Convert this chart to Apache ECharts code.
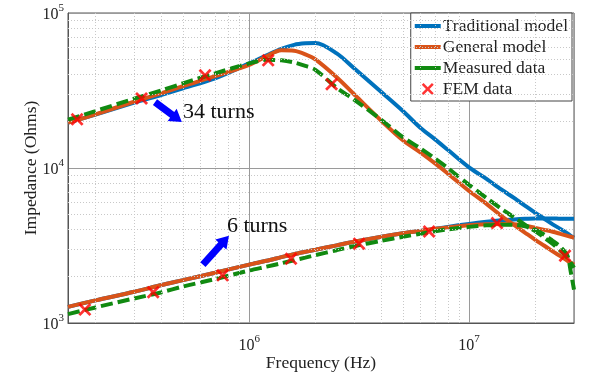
<!DOCTYPE html>
<html><head><meta charset="utf-8">
<script src="https://cdn.jsdelivr.net/npm/echarts@6/dist/echarts.min.js"></script>
<style>html,body{margin:0;padding:0;background:#fff}#c{width:591px;height:373px}</style>
</head><body><div id="c"></div>
<script>
// Frequency grid (Hz)
const freq = [1.5e5, 2e5, 3e5, 4e5, 5e5, 7e5, 1e6, 1.2e6, 1.4e6, 1.6e6, 1.8e6, 2e6, 2.5e6, 3e6, 4e6, 5e6, 6e6, 7e6, 8e6, 1e7, 1.2e7, 1.4e7, 1.6e7, 1.8e7, 2e7, 2.2e7, 2.4e7, 2.6e7, 2.8e7, 2.9e7, 3e7];
// 34 turns
const tradUpper = [19600, 22100, 26400, 29700, 32700, 37900, 47300, 53300, 58700, 62300, 63700, 64000, 54900, 44000, 30800, 23300, 18200, 15300, 13100, 10100, 8500, 7270, 6410, 5700, 5140, 4700, 4330, 4050, 3790, 3650, 3550];
const genUpper = [19600, 22200, 26800, 30400, 33700, 39100, 46300, 52500, 57400, 57000, 54100, 50200, 38500, 29900, 20100, 15100, 12600, 10700, 9220, 7110, 5870, 4910, 4300, 3820, 3440, 3150, 2900, 2700, 2520, 2450, 2380];
const measUpper = [20500, 23300, 28000, 31700, 35200, 40800, 47300, 49900, 49500, 48000, 45600, 43000, 32900, 27600, 20400, 15800, 13400, 11500, 10000, 7780, 6410, 5450, 4810, 4300, 3910, 3550, 3240, 2930, 2640, 2450, 2270];
// 6 turns
const tradLower = [1270, 1400, 1590, 1760, 1890, 2110, 2380, 2520, 2660, 2780, 2880, 2970, 3170, 3340, 3600, 3790, 3930, 4050, 4170, 4360, 4500, 4600, 4660, 4700, 4730, 4730, 4730, 4700, 4700, 4700, 4700];
const genLower = [1270, 1400, 1590, 1760, 1890, 2110, 2380, 2520, 2660, 2780, 2880, 2970, 3170, 3340, 3600, 3790, 3930, 4050, 4140, 4270, 4330, 4360, 4330, 4240, 4110, 3990, 3880, 3760, 3650, 3600, 3550];
const measLower = [1140, 1260, 1440, 1580, 1720, 1920, 2180, 2310, 2430, 2540, 2640, 2740, 2950, 3130, 3390, 3600, 3760, 3910, 4020, 4170, 4270, 4300, 4300, 4210, 3990, 3710, 3390, 3100, 2720, 2140, 1640];
// FEM points
const femUpperFreq = [1.65e5, 3.24e5, 6.30e5, 1.22e6, 2.37e6];
const femUpperZ = [20600, 28100, 39600, 49500, 34700];
const femLowerFreq = [1.79e5, 3.66e5, 7.57e5, 1.55e6, 3.16e6, 6.58e6, 1.34e7, 2.73e7];
const femLowerZ = [1220, 1580, 2030, 2600, 3250, 3890, 4410, 2720];
// Axes
const xRange = [1.5e5, 3e7];
const yRange = [1e3, 1e5];
const minorMultipliers = [2, 3, 4, 5, 6, 7, 8, 9];
const xDecades = [1e5, 1e6, 1e7];
const yDecades = [1e3, 1e4];
// Labels / annotations
const legendNames = ['Traditional model', 'General model', 'Measured data', 'FEM data'];
const xName = 'Frequency (Hz)';
const yName = 'Impedance (Ohms)';
const annoText = ['34 turns', '6 turns'];
const annoTextAt = [[5.0e5, 2.29e4], [7.92e5, 4.18e3]];
const annoArrows = [[[3.73e5, 2.66e4], [4.94e5, 1.98e4]], [[6.16e5, 2.38e3], [8.09e5, 3.66e3]]];

const FONT = '"Liberation Serif", "Times New Roman", serif';
const C_BLUE = '#0072BD', C_ORANGE = '#D95319', C_GREEN = '#118A11', C_RED = '#FF0000';

const zip = (a, b) => a.map((v, i) => [v, b[i]]);
const minorX = [], minorY = [];
xDecades.forEach(d => minorMultipliers.forEach(m => { const v = d * m; if (v > xRange[0] && v < xRange[1]) minorX.push({ xAxis: v }); }));
yDecades.forEach(d => minorMultipliers.forEach(m => { const v = d * m; if (v > yRange[0] && v < yRange[1]) minorY.push({ yAxis: v }); }));

const expLabel = v => '{b|10}{s|' + Math.round(Math.log10(v)) + '}';
const rich = {
  b: { fontSize: 16, fontFamily: FONT, color: '#222', verticalAlign: 'bottom' },
  s: { fontSize: 11, fontFamily: FONT, color: '#222', verticalAlign: 'bottom', padding: [0, 0, 9, 0] }
};

function lineSeries(name, data, color, dashed, z) {
  return {
    name, type: 'line', data: zip(freq, data), symbol: 'none', smooth: 0.3, z,
    color, lineStyle: { width: 4, color, type: dashed ? [12, 5] : 'solid' },
    emphasis: { disabled: true }
  };
}
const xPath = 'path://M0,1.5 L1.5,0 L5,3.5 L8.5,0 L10,1.5 L6.5,5 L10,8.5 L8.5,10 L5,6.5 L1.5,10 L0,8.5 L3.5,5 Z';
const barPath = 'path://M0,0 H26 V4 H0 Z';
function femSeries(f, z) {
  return { name: 'FEM data', type: 'scatter', data: zip(f, z), symbol: xPath, symbolSize: 13,
    itemStyle: { color: C_RED }, z: 6, emphasis: { disabled: true } };
}

const chart = echarts.init(document.getElementById('c'), null, { renderer: 'canvas' });
chart.setOption({
  animation: false,
  backgroundColor: '#fff',
  grid: { left: 68, right: 17, top: 13, bottom: 50, show: true, borderColor: '#555', borderWidth: 1,
          containLabel: false, outerBoundsMode: 'none' },
  xAxis: {
    type: 'log', logBase: 10, min: xRange[0], max: xRange[1],
    name: xName, nameLocation: 'middle', nameGap: 31, nameMoveOverlap: false,
    nameTextStyle: { fontFamily: FONT, fontSize: 17.5, color: '#222' },
    axisLine: { show: true, lineStyle: { color: '#555' } },
    axisTick: { show: false },
    axisLabel: { formatter: expLabel, rich, margin: 11, showMinLabel: false, showMaxLabel: false },
    splitLine: { show: true, lineStyle: { color: '#9a9a9a', width: 1 } },
    minorTick: { show: false }, minorSplitLine: { show: false }
  },
  yAxis: {
    type: 'log', logBase: 10, min: yRange[0], max: yRange[1],
    name: yName, nameLocation: 'middle', nameGap: 28, nameMoveOverlap: false,
    nameTextStyle: { fontFamily: FONT, fontSize: 17.5, color: '#222' },
    axisLine: { show: true, lineStyle: { color: '#555' } },
    axisTick: { show: false },
    axisLabel: { formatter: expLabel, rich, margin: 4 },
    splitLine: { show: true, lineStyle: { color: '#9a9a9a', width: 1 } },
    minorTick: { show: false }, minorSplitLine: { show: false }
  },
  legend: {
    data: [
      { name: legendNames[0], icon: barPath },
      { name: legendNames[1], icon: barPath },
      { name: legendNames[2], icon: barPath },
      { name: legendNames[3], icon: xPath }
    ],
    orient: 'vertical', right: 19, top: 13,
    itemWidth: 26, itemHeight: 12, itemGap: 3, padding: [4, 4, 3, 4],
    borderColor: '#444', borderWidth: 1, backgroundColor: '#fff', borderRadius: 0,
    textStyle: { fontFamily: FONT, fontSize: 17.5, color: '#222', padding: [0, 0, 0, -3] },
    selectedMode: false
  },
  series: [
    { name: '_minor', type: 'line', data: [], silent: true, z: 0,
      markLine: { silent: true, symbol: 'none', label: { show: false }, animation: false,
        lineStyle: { color: '#c8c8c8', type: [1, 2], width: 1 }, data: minorX.concat(minorY) } },
    lineSeries('Traditional model', tradUpper, C_BLUE, false, 2),
    lineSeries('Traditional model', tradLower, C_BLUE, false, 2),
    lineSeries('General model', genUpper, C_ORANGE, false, 3),
    lineSeries('General model', genLower, C_ORANGE, false, 3),
    lineSeries('Measured data', measUpper, C_GREEN, true, 4),
    lineSeries('Measured data', measLower, C_GREEN, true, 4),
    femSeries(femUpperFreq, femUpperZ),
    femSeries(femLowerFreq, femLowerZ)
  ]
});

function arrowPoly(p0, p1, shaftW, headW, headL) {
  const dx = p1[0] - p0[0], dy = p1[1] - p0[1], len = Math.hypot(dx, dy);
  const ux = dx / len, uy = dy / len, nx = -uy, ny = ux;
  const bx = p1[0] - ux * headL, by = p1[1] - uy * headL;
  return [
    [p0[0] + nx * shaftW / 2, p0[1] + ny * shaftW / 2],
    [bx + nx * shaftW / 2, by + ny * shaftW / 2],
    [bx + nx * headW / 2, by + ny * headW / 2],
    p1,
    [bx - nx * headW / 2, by - ny * headW / 2],
    [bx - nx * shaftW / 2, by - ny * shaftW / 2],
    [p0[0] - nx * shaftW / 2, p0[1] - ny * shaftW / 2]
  ];
}
const toPx = v => chart.convertToPixel({ gridIndex: 0 }, v);
const graphics = [];
annoArrows.forEach(a => {
  graphics.push({ type: 'polygon', shape: { points: arrowPoly(toPx(a[0]), toPx(a[1]), 7, 15, 12) },
    style: { fill: '#0000FF' }, z: 100 });
});
annoText.forEach((t, i) => {
  const p = toPx(annoTextAt[i]);
  graphics.push({ type: 'text', x: p[0], y: p[1], z: 100,
    style: { text: t, fontFamily: FONT, fontSize: 22, fill: '#111', verticalAlign: 'middle', align: 'left' } });
});
chart.setOption({ graphic: graphics });
</script>
</body></html>
